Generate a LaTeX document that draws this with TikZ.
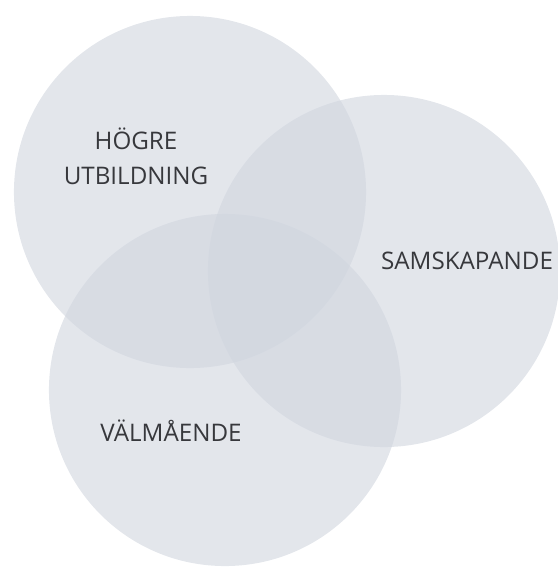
\documentclass[tikz,border=0pt]{standalone}
\usepackage{fontspec}
\setmainfont{Open Sans}
\definecolor{vennfill}{RGB}{208,213,222}
\definecolor{venntext}{RGB}{55,56,60}
\begin{document}
\begin{tikzpicture}[x=0.025cm,y=-0.025cm,inner sep=0pt,outer sep=0pt,
	venn/.style={circle,fill=vennfill,fill opacity=0.6,minimum size=8.8cm},
	vennlabel/.style={text=venntext,font=\fontsize{17.2}{24.8}\selectfont,align=center}]
	\useasboundingbox (0,0) rectangle (558,568);
	\node[venn] (hogre) at (190,192) {};
	\node[venn] (sams) at (384,271) {};
	\node[venn] (valm) at (225,390) {};
	% the base of a two line node is its last line
	\node[vennlabel,anchor=base] (hogretxt) at (136,184) {HÖGRE\\UTBILDNING};
	\node[vennlabel,anchor=base] (samstxt) at (467,269) {SAMSKAPANDE};
	\node[vennlabel,anchor=base] (valmtxt) at (171,441) {VÄLMÅENDE};
\end{tikzpicture}
\end{document}
